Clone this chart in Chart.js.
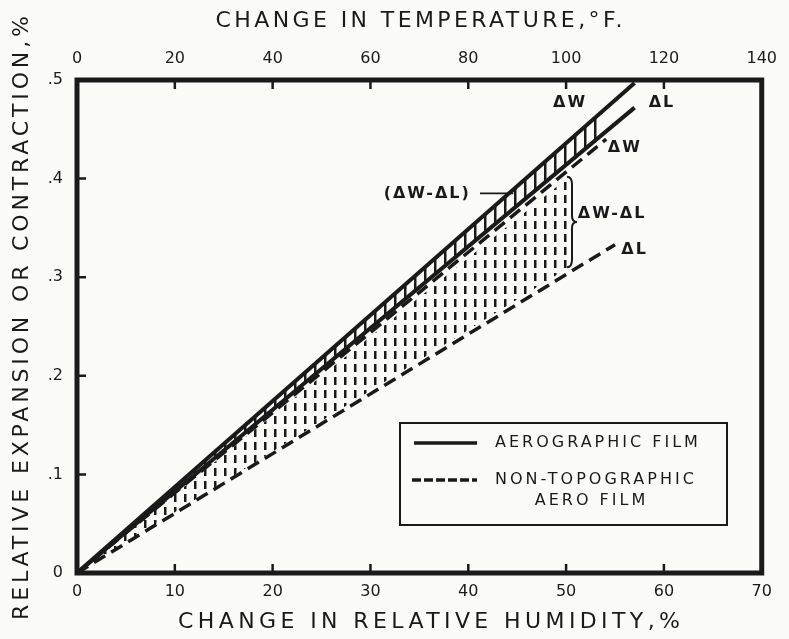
<!DOCTYPE html>
<html>
<head>
<meta charset="utf-8">
<script src="https://cdn.jsdelivr.net/npm/chart.js@4/dist/chart.umd.min.js"></script>
<style>
  html, body { margin: 0; padding: 0; background: #fbfbf8; }
  canvas { display: block; }
</style>
</head>
<body>
<canvas id="chart" width="789" height="639"></canvas>
<script>
// Values (humidity %, relative change %)
const aeroX = [0, 57];
const aeroW = [0, 0.497];
const aeroL = [0, 0.472];
const nonTopoWX = [0, 54.1];
const nonTopoW = [0, 0.440];
const nonTopoLX = [0, 55];
const nonTopoL = [0, 0.333];

// hatched bands (where the hatching stops)
const aeroBandX = [0, 53.5];
const aeroBandTop = [0, 0.468];
const aeroBandBottom = [0, 0.444];
const nonTopoBandX = [0, 50.3];
const nonTopoBandTop = [0, 0.402];
const nonTopoBandBottom = [0, 0.310];

// axes
const humidityRange = [0, 70];
const temperatureRange = [0, 140];
const expansionRange = [0, 0.5];
const humidityMarks = [10, 20, 30, 40, 50, 60];
const temperatureMarks = [20, 40, 60, 80, 100, 120];
const expansionMarks = [0.1, 0.2, 0.3, 0.4];

const ink = '#1a1a1a';
const paper = '#fbfbf8';
const family = '"DejaVu Sans", sans-serif';

const pts = (xs, ys) => xs.map((x, i) => ({ x: x, y: ys[i] }));

// vertical hatching as canvas patterns
function stripes(dashed) {
    const c = document.createElement('canvas');
    c.width = 10;
    c.height = dashed ? 13 : 10;
    const g = c.getContext('2d');
    g.fillStyle = ink;
    g.fillRect(4, 0, 2.5, dashed ? 8 : 10);
    return g.createPattern(c, 'repeat');
}

function label(ctx, s, x, y, font, spacing, align) {
    ctx.save();
    ctx.font = font;
    ctx.fillStyle = ink;
    ctx.textAlign = align || 'center';
    ctx.textBaseline = 'middle';
    ctx.letterSpacing = spacing + 'px';
    const dx = (align || 'center') === 'center' ? spacing / 2 : 0;
    ctx.fillText(s, x + dx, y);
    ctx.restore();
}

const paperPlugin = {
    id: 'paper',
    beforeDraw(chart) {
        const ctx = chart.ctx;
        ctx.save();
        ctx.fillStyle = paper;
        ctx.fillRect(0, 0, chart.width, chart.height);
        ctx.restore();
    }
};

const decorPlugin = {
    id: 'decor',
    afterDatasetsDraw(chart) {
        const ctx = chart.ctx;
        const a = chart.chartArea;
        const xs = chart.scales.x, x2 = chart.scales.x2, ys = chart.scales.y;
        const px = v => xs.getPixelForValue(v);
        const py = v => ys.getPixelForValue(v);

        ctx.save();
        ctx.strokeStyle = ink;
        ctx.lineCap = 'butt';

        // inward tick marks
        ctx.lineWidth = 2.5;
        ctx.beginPath();
        humidityMarks.forEach(v => { ctx.moveTo(px(v), a.bottom); ctx.lineTo(px(v), a.bottom - 9); });
        temperatureMarks.forEach(v => { const p = x2.getPixelForValue(v); ctx.moveTo(p, a.top); ctx.lineTo(p, a.top + 9); });
        expansionMarks.forEach(v => { ctx.moveTo(a.left, py(v)); ctx.lineTo(a.left + 9, py(v)); });
        ctx.stroke();

        // frame
        ctx.lineWidth = 5;
        ctx.strokeRect(a.left, a.top, a.right - a.left, a.bottom - a.top);

        // leader for (ΔW-ΔL)
        ctx.lineWidth = 1.8;
        ctx.beginPath();
        ctx.moveTo(px(41.2), py(0.385));
        ctx.lineTo(px(44.6), py(0.385));
        ctx.stroke();

        // curly brace at the end of the dashed band
        const bx = px(50.4), top = py(0.402), bot = py(0.310), mid = (top + bot) / 2;
        ctx.lineWidth = 2;
        ctx.beginPath();
        ctx.moveTo(bx - 3, top);
        ctx.quadraticCurveTo(bx + 2, top, bx + 2, top + 8);
        ctx.lineTo(bx + 2, mid - 6);
        ctx.quadraticCurveTo(bx + 2, mid, bx + 7, mid);
        ctx.quadraticCurveTo(bx + 2, mid, bx + 2, mid + 6);
        ctx.lineTo(bx + 2, bot - 8);
        ctx.quadraticCurveTo(bx + 2, bot, bx - 3, bot);
        ctx.stroke();

        // legend
        ctx.lineWidth = 2;
        ctx.strokeRect(400, 423, 327, 102);
        ctx.lineWidth = 3.5;
        ctx.beginPath();
        ctx.moveTo(414, 443); ctx.lineTo(477, 443);
        ctx.stroke();
        ctx.setLineDash([9, 3]);
        ctx.beginPath();
        ctx.moveTo(412, 480); ctx.lineTo(477, 480);
        ctx.stroke();
        ctx.setLineDash([]);
        ctx.restore();

        const small = '16px ' + family;
        label(ctx, 'AEROGRAPHIC FILM', 495, 443, small, 3, 'left');
        label(ctx, 'NON-TOPOGRAPHIC', 495, 480, small, 3, 'left');
        label(ctx, 'AERO FILM', 590, 501, small, 3, 'center');

        // line annotations
        const bold = 'bold 16px ' + family;
        label(ctx, 'ΔW', px(50.3), py(0.477), bold, 2);
        label(ctx, 'ΔL', px(59.7), py(0.477), bold, 2);
        label(ctx, 'ΔW', px(55.9), py(0.431), bold, 2);
        label(ctx, 'ΔW-ΔL', px(51.2), py(0.364), bold, 2, 'left');
        label(ctx, 'ΔL', px(56.9), py(0.328), bold, 2);
        label(ctx, '(ΔW-ΔL)', px(35.7), py(0.385), bold, 2);

        // axis titles
        const big = '22px ' + family;
        label(ctx, 'CHANGE IN TEMPERATURE,°F.', 419, 21, big, 3.4);
        label(ctx, 'CHANGE IN RELATIVE HUMIDITY,%', 429, 622, big, 4.4);
        ctx.save();
        ctx.translate(22, 318);
        ctx.rotate(-Math.PI / 2);
        label(ctx, 'RELATIVE EXPANSION OR CONTRACTION,%', 0, 0, big, 3.85);
        ctx.restore();
    }
};

const tickFont = { family: family, size: 16 };

new Chart(document.getElementById('chart'), {
    type: 'line',
    data: {
        datasets: [
            { label: 'ΔW aerographic', data: pts(aeroX, aeroW), borderColor: ink, borderWidth: 4, pointRadius: 0, fill: false },
            { label: 'ΔL aerographic', data: pts(aeroX, aeroL), borderColor: ink, borderWidth: 4, pointRadius: 0, fill: false },
            { label: 'ΔW non-topographic', data: pts(nonTopoWX, nonTopoW), borderColor: ink, borderWidth: 3.5, borderDash: [13, 7], pointRadius: 0, fill: false },
            { label: 'ΔL non-topographic', data: pts(nonTopoLX, nonTopoL), borderColor: ink, borderWidth: 3.5, borderDash: [13, 7], pointRadius: 0, fill: false },
            { label: 'aero band top', data: pts(aeroBandX, aeroBandTop), borderColor: 'transparent', pointRadius: 0, fill: '+1', backgroundColor: stripes(false) },
            { label: 'aero band bottom', data: pts(aeroBandX, aeroBandBottom), borderColor: 'transparent', pointRadius: 0, fill: false },
            { label: 'non-topo band top', data: pts(nonTopoBandX, nonTopoBandTop), borderColor: 'transparent', pointRadius: 0, fill: '+1', backgroundColor: stripes(true) },
            { label: 'non-topo band bottom', data: pts(nonTopoBandX, nonTopoBandBottom), borderColor: 'transparent', pointRadius: 0, fill: false }
        ]
    },
    options: {
        responsive: false,
        animation: false,
        events: [],
        layout: { padding: { left: 0, right: 19, top: 0, bottom: 0 } },
        plugins: {
            legend: { display: false },
            tooltip: { enabled: false }
        },
        scales: {
            x: {
                type: 'linear', position: 'bottom',
                min: humidityRange[0], max: humidityRange[1],
                ticks: { stepSize: 10, padding: 9, color: ink, font: tickFont, maxRotation: 0 },
                grid: { display: false, drawTicks: false },
                border: { display: false },
                afterFit: s => { s.height = 66; }
            },
            x2: {
                type: 'linear', position: 'top',
                min: temperatureRange[0], max: temperatureRange[1],
                ticks: { stepSize: 20, padding: 12, color: ink, font: tickFont, maxRotation: 0 },
                grid: { display: false, drawTicks: false },
                border: { display: false },
                afterFit: s => { s.height = 80; }
            },
            y: {
                type: 'linear',
                min: expansionRange[0], max: expansionRange[1],
                ticks: {
                    stepSize: 0.1, padding: 14, color: ink, font: tickFont,
                    callback: v => Math.abs(v) < 1e-9 ? '0' : v.toFixed(1).replace(/^0/, '')
                },
                grid: { display: false, drawTicks: false },
                border: { display: false },
                afterFit: s => { s.width = 77; }
            }
        }
    },
    plugins: [paperPlugin, decorPlugin]
});
</script>
</body>
</html>
